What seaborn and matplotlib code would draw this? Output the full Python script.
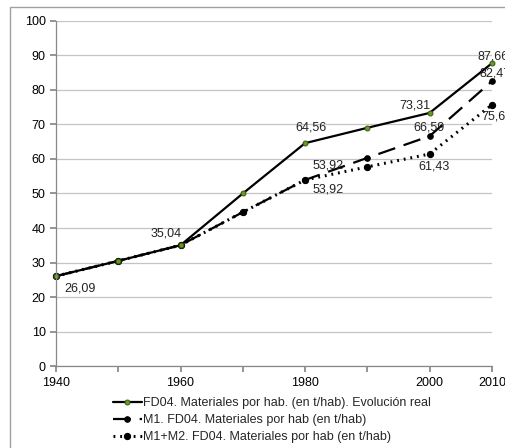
import numpy as np
import pandas as pd
import matplotlib
matplotlib.use("Agg")
import matplotlib.pyplot as plt
import seaborn as sns
from matplotlib.patches import Rectangle

# Data
years = [1940, 1950, 1960, 1970, 1980, 1990, 2000, 2010]
real = [26.09, 30.5, 35.04, 50.0, 64.56, 69.0, 73.31, 87.66]
m1 = [26.09, 30.5, 35.04, 44.6, 53.92, 60.3, 66.59, 82.47]
m1m2 = [26.09, 30.5, 35.04, 44.6, 53.92, 57.7, 61.43, 75.64]
tick_labels = ["1940", "", "1960", "", "1980", "", "2000", "2010"]

names = [
    "FD04. Materiales por hab. (en t/hab). Evolución real",
    "M1. FD04. Materiales por hab (en t/hab)",
    "M1+M2. FD04. Materiales por hab (en t/hab)",
]

sns.set_theme(style="white")
plt.rcParams["font.family"] = ["Liberation Sans", "DejaVu Sans"]

fig = plt.figure(figsize=(5.06, 4.48), dpi=100)
ax = fig.add_axes([0.1107, 0.1824, 0.8613, 0.7714])

pos = np.arange(len(years))
df = pd.DataFrame({"pos": pos, "real": real, "m1": m1, "m1m2": m1m2})

sns.lineplot(data=df, x="pos", y="m1m2", ax=ax, color="black", linewidth=2.2,
             linestyle=(0, (0.6, 1.6)), marker="o", markersize=4.5,
             markerfacecolor="black", markeredgecolor="black", label=names[2])
sns.lineplot(data=df, x="pos", y="m1", ax=ax, color="black", linewidth=1.6,
             linestyle=(0, (8, 4)), marker="o", markersize=4,
             markerfacecolor="black", markeredgecolor="black", label=names[1])
sns.lineplot(data=df, x="pos", y="real", ax=ax, color="black", linewidth=1.6,
             marker="o", markersize=3.5, markerfacecolor="#6a9a2a",
             markeredgecolor="#3a5a10", label=names[0])
for line in ax.lines:
    line.set_clip_on(False)

ax.set_xlim(0, len(years) - 1)
ax.set_ylim(0, 100)
ax.set_yticks(range(0, 101, 10))
ax.set_xticks(pos)
ax.set_xticklabels(tick_labels)
ax.set_xlabel("")
ax.set_ylabel("")
ax.tick_params(axis="both", labelsize=9, colors="black")
ax.tick_params(axis="x", length=4, color="#888888", direction="out", bottom=True)
ax.tick_params(axis="y", length=4, color="#888888", direction="out", left=True)
ax.yaxis.grid(True, color="#c4c4c4", linewidth=0.9)
ax.set_axisbelow(True)
for s in ["top", "right"]:
    ax.spines[s].set_visible(False)
for s in ["left", "bottom"]:
    ax.spines[s].set_color("#888888")
    ax.spines[s].set_linewidth(0.9)

def fmt(v):
    return f"{v:.2f}".replace(".", ",")

# data labels, offsets in pixels from the point (label centre)
labels = [
    (0, real[0], (24, -12)),
    (2, real[2], (-14, 12)),
    (4, real[4], (6, 16)),
    (6, real[6], (-15, 7)),
    (7, real[7], (1, 7)),
    (4, m1[4], (23, 14)),
    (6, m1[6], (-1, 9)),
    (7, m1[7], (3, 8)),
    (4, m1m2[4], (23, -10)),
    (6, m1m2[6], (4, -13)),
    (7, m1m2[7], (5, -12)),
]
for i, v, off in labels:
    ax.annotate(fmt(v), (pos[i], v), xytext=off, textcoords="offset pixels",
                ha="center", va="center", fontsize=9, color="#222222",
                annotation_clip=False)

handles, labs = ax.get_legend_handles_labels()
order = [labs.index(n) for n in names]
ax.legend([handles[k] for k in order], [labs[k] for k in order],
          loc="upper left", bbox_to_anchor=(113 / 506, 1 - 397 / 448),
          bbox_transform=fig.transFigure, frameon=False, fontsize=9,
          handlelength=2.3, handletextpad=0.1, labelspacing=0.4,
          borderaxespad=0, borderpad=0)

fig.patches.append(Rectangle((10 / 506, -0.1), 1.2, 1 - 7 / 448 + 0.1,
                             transform=fig.transFigure, fill=False,
                             edgecolor="#a0a0a0", linewidth=1))

fig.savefig("out.png", dpi=100)
